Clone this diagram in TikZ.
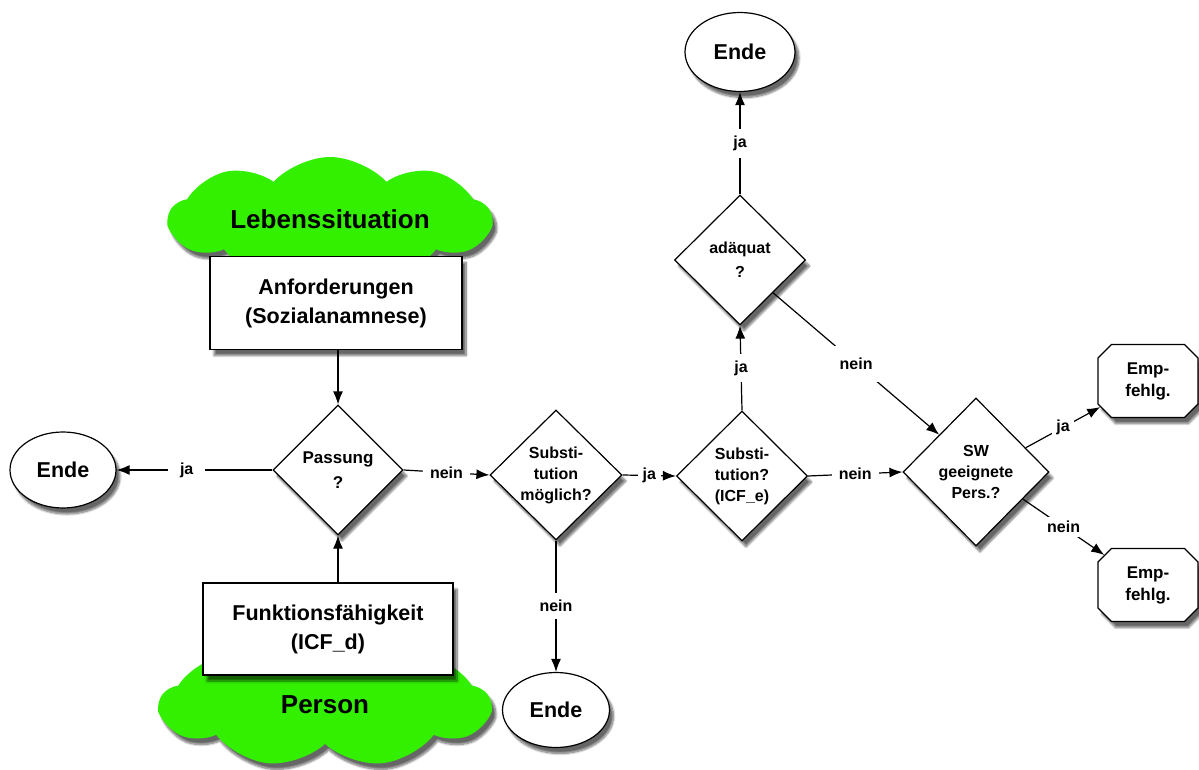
\documentclass[tikz,border=0pt]{standalone}
\usepackage{fontspec}
\setmainfont{Liberation Sans}
\usetikzlibrary{shapes.geometric,shapes.symbols,shapes.misc,arrows.meta,shadows.blur}
\definecolor{blobgreen}{RGB}{51,240,0}
\begin{document}
\begin{tikzpicture}[x=1pt,y=-1pt,
	shade/.style={blur shadow={shadow xshift=4pt,shadow yshift=-6pt,shadow blur steps=10,shadow opacity=60}},
	blob/.style={cloud,cloud puffs=9,cloud puff arc=95,cloud ignores aspect,fill=blobgreen,shade,inner sep=0pt,font=\fontsize{26}{30}\selectfont\bfseries},
	box/.style={rectangle,draw,line width=1.2pt,fill=white,shade,align=center,font=\fontsize{21.5}{29}\selectfont\bfseries},
	dia/.style={diamond,draw,line width=1.2pt,fill=white,shade,inner sep=0pt,align=center,font=\fontsize{16}{21}\selectfont\bfseries},
	stop/.style={ellipse,draw,line width=1.2pt,fill=white,shade,font=\fontsize{21.5}{24}\selectfont\bfseries},
	rec/.style={chamfered rectangle,chamfered rectangle xsep=10pt,draw,line width=1.2pt,fill=white,shade,minimum width=100,minimum height=73,align=center,font=\fontsize{17}{22}\selectfont\bfseries},
	arr/.style={line width=1.2pt,-{Latex[length=13pt,width=10pt]}},
	lbl/.style={fill=white,inner sep=7pt,font=\fontsize{16}{18}\selectfont\bfseries}]
	\useasboundingbox (0,0) rectangle (1199,770);
	% green areas
	\node[blob,minimum width=322,minimum height=124] (lebens) at (330,219) {Lebenssituation};
	\node[blob,minimum width=330,minimum height=124,text depth=0pt] (person) at (325,705) {Person};
	% boxes
	\node[box,minimum width=252,minimum height=93] (anf) at (336,303) {Anforderungen\\(Sozialanamnese)};
	\node[box,minimum width=250,minimum height=92] (funk) at (328,629) {Funktionsfähigkeit\\(ICF\_d)};
	% decisions
	\node[dia,minimum width=130,minimum height=130,font=\fontsize{17}{25}\selectfont\bfseries] (passung) at (338,470) {Passung\\?};
	\node[dia,minimum width=132,minimum height=130] (subst) at (556,475) {Substi-\\tution\\möglich?};
	\node[dia,minimum width=131,minimum height=130] (substE) at (742,476) {Substi-\\tution?\\(ICF\_e)};
	\node[dia,minimum width=131,minimum height=130,font=\fontsize{16}{24}\selectfont\bfseries] (adaequat) at (740,260) {adäquat\\?};
	\node[dia,minimum width=146,minimum height=148] (sw) at (976,472) {SW\\geeignete\\Pers.?};
	% ends
	\node[stop,minimum width=106,minimum height=76] (endeL) at (63,470) {Ende};
	\node[stop,minimum width=107,minimum height=75] (endeB) at (556,710) {Ende};
	\node[stop,minimum width=110,minimum height=79] (endeT) at (740,52) {Ende};
	\node[rec] (empf1) at (1148,381) {Emp-\\fehlg.};
	\node[rec] (empf2) at (1148,585) {Emp-\\fehlg.};
	% connectors
	\draw[arr] (anf.south -| passung.north) -- (passung.north);
	\draw[arr] (funk.north -| passung.south) -- (passung.south);
	\draw[arr] (passung.west) -- node[lbl,pos=0.55,inner xsep=12pt] {ja} (endeL);
	\draw[arr] (passung.east) -- node[lbl] {nein} (subst.west);
	\draw[arr] (subst.east) -- node[lbl,inner sep=5pt] {ja} (substE.west);
	\draw[arr] (subst.south) -- node[lbl] {nein} (endeB);
	\draw[arr] (substE.north) -- node[lbl] {ja} (adaequat.south);
	\draw[arr] (adaequat.north) -- node[lbl] {ja} (endeT);
	\draw[arr] (adaequat.south east) -- node[lbl,inner sep=12pt] {nein} (sw.north west);
	\draw[arr] (substE.east) -- node[lbl] {nein} (sw.west);
	\draw[arr] (sw.26) -- node[lbl,inner sep=4pt] {ja} (empf1);
	\draw[arr] (sw.-30) -- node[lbl,inner sep=4pt] {nein} (empf2);
\end{tikzpicture}
\end{document}
